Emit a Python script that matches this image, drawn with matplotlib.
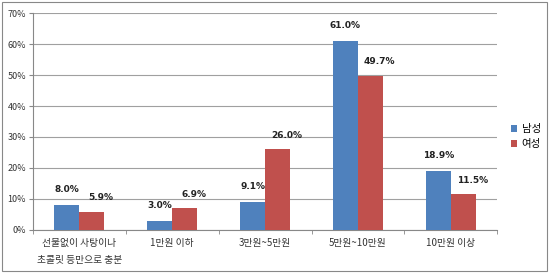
import matplotlib.pyplot as plt
import numpy as np
from matplotlib.patches import Rectangle

plt.rcParams['font.family'] = ['Noto Sans CJK KR', 'DejaVu Sans']

categories = ["선물없이 사탕이나\n초콜릿 등만으로 충분", "1만원 이하", "3만원~5만원", "5만원~10만원", "10만원 이상"]
male = [8.0, 3.0, 9.1, 61.0, 18.9]
female = [5.9, 6.9, 26.0, 49.7, 11.5]
series_names = ["남성", "여성"]

fig = plt.figure(figsize=(5.5, 2.73), dpi=100)
fig.patches.append(Rectangle((0.004, 0.007), 0.99, 0.985, transform=fig.transFigure,
                             fill=False, edgecolor="#888888", linewidth=0.8))
ax = fig.add_axes([0.06, 0.158, 0.844, 0.794])

x = np.arange(len(categories))
w = 0.27
ax.bar(x - w / 2, male, w, color="#4F81BD", label=series_names[0], zorder=3)
ax.bar(x + w / 2, female, w, color="#C0504D", label=series_names[1], zorder=3)

for i in range(len(categories)):
    ax.text(x[i] - w / 2, male[i] + 5, f"{male[i]:.1f}%", ha="center", va="center",
            fontsize=6.5, fontweight="bold", color="#222222", family="DejaVu Sans")
    ax.text(x[i] + w / 2 + 0.1, female[i] + 4.6, f"{female[i]:.1f}%", ha="center", va="center",
            fontsize=6.5, fontweight="bold", color="#222222", family="DejaVu Sans")

ax.set_xlim(-0.5, len(categories) - 0.5)
ax.set_ylim(0, 70)
ax.set_yticks(range(0, 71, 10))
ax.set_yticklabels([f"{v}%" for v in range(0, 71, 10)], fontsize=6.5, color="#333333")
ax.set_xticks(x)
ax.set_xticklabels(categories, fontsize=7, color="#333333", linespacing=1.9)
ax.set_xticks(np.arange(-0.5, len(categories), 1), minor=True)
ax.tick_params(axis="x", which="major", length=0, pad=6)
ax.tick_params(axis="x", which="minor", length=3, color="#888888")
ax.tick_params(axis="y", length=3, color="#888888", pad=2)
ax.grid(axis="y", color="#A0A0A0", linewidth=0.8, zorder=0)
for s in ["top", "right"]:
    ax.spines[s].set_visible(False)
ax.spines["left"].set_color("#888888")
ax.spines["bottom"].set_color("#888888")

ax.legend(loc="center left", bbox_to_anchor=(1.01, 0.43), frameon=False, fontsize=7.5,
          handlelength=0.6, handleheight=0.6, handletextpad=0.4, labelspacing=0.5)

fig.savefig("out.png", dpi=100)
